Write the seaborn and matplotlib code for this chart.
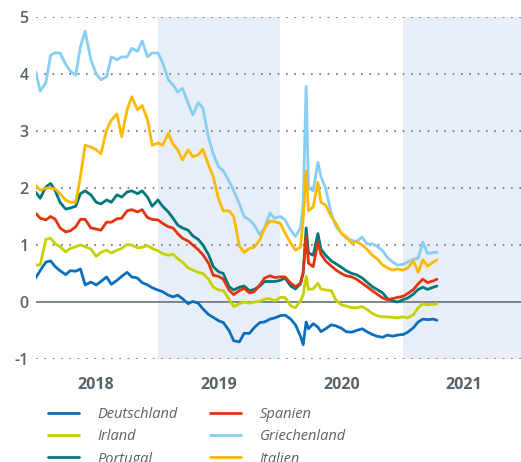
import pandas as pd
import matplotlib
matplotlib.use("Agg")
import matplotlib.pyplot as plt
import seaborn as sns

# Rendite zehnjähriger Staatsanleihen, in % (ca. halbmonatlich)
dates = [
    "2018-01-01", "2018-01-15", "2018-02-01", "2018-02-15", "2018-03-01", "2018-03-15",
    "2018-04-01", "2018-04-15", "2018-05-01", "2018-05-15", "2018-05-29", "2018-06-15",
    "2018-07-01", "2018-07-15", "2018-08-01", "2018-08-15", "2018-09-01", "2018-09-15",
    "2018-10-01", "2018-10-15", "2018-11-01", "2018-11-15", "2018-12-01", "2018-12-15",
    "2019-01-01", "2019-01-15", "2019-02-01", "2019-02-15", "2019-03-01", "2019-03-15",
    "2019-04-01", "2019-04-15", "2019-05-01", "2019-05-15", "2019-06-01", "2019-06-15",
    "2019-07-01", "2019-07-15", "2019-08-01", "2019-08-15", "2019-09-01", "2019-09-15",
    "2019-10-01", "2019-10-15", "2019-11-01", "2019-11-15", "2019-12-01", "2019-12-15",
    "2020-01-01", "2020-01-15", "2020-02-01", "2020-02-15", "2020-03-01", "2020-03-09",
    "2020-03-18", "2020-03-25", "2020-04-08", "2020-04-22", "2020-05-01", "2020-05-15",
    "2020-06-01", "2020-06-15", "2020-07-01", "2020-07-15", "2020-08-01", "2020-08-15",
    "2020-09-01", "2020-09-15", "2020-10-01", "2020-10-15", "2020-11-01", "2020-11-15",
    "2020-12-01", "2020-12-15", "2021-01-01", "2021-01-15", "2021-02-01", "2021-02-15",
    "2021-03-01", "2021-03-15", "2021-04-01", "2021-04-12",
]

deutschland = [
    0.42, 0.55, 0.70, 0.72, 0.62, 0.55, 0.48, 0.55, 0.54, 0.58, 0.30, 0.35,
    0.30, 0.36, 0.44, 0.31, 0.38, 0.45, 0.52, 0.44, 0.42, 0.34, 0.30, 0.25,
    0.21, 0.18, 0.12, 0.09, 0.12, 0.06, -0.03, 0.01, -0.02, -0.12, -0.22, -0.27,
    -0.33, -0.36, -0.50, -0.68, -0.70, -0.55, -0.55, -0.45, -0.36, -0.35, -0.30, -0.28,
    -0.24, -0.23, -0.30, -0.40, -0.60, -0.75, -0.35, -0.47, -0.38, -0.44, -0.52, -0.47,
    -0.40, -0.42, -0.46, -0.52, -0.53, -0.50, -0.47, -0.52, -0.57, -0.60, -0.62, -0.58,
    -0.60, -0.58, -0.57, -0.53, -0.45, -0.35, -0.30, -0.31, -0.30, -0.32,
]
irland = [
    0.65, 0.65, 1.10, 1.12, 1.02, 0.97, 0.88, 0.94, 0.97, 1.00, 0.97, 0.93,
    0.80, 0.87, 0.91, 0.86, 0.91, 0.94, 1.01, 1.00, 0.95, 0.96, 0.99, 0.94,
    0.90, 0.85, 0.82, 0.84, 0.76, 0.70, 0.60, 0.56, 0.52, 0.50, 0.40, 0.26,
    0.21, 0.20, 0.05, -0.08, -0.03, 0.00, -0.02, 0.00, 0.01, 0.05, 0.06, 0.02,
    0.08, 0.08, -0.07, -0.10, 0.02, 0.12, 0.45, 0.22, 0.23, 0.33, 0.23, 0.21,
    0.20, 0.03, -0.05, -0.07, -0.10, -0.10, -0.08, -0.13, -0.20, -0.24, -0.26, -0.26,
    -0.27, -0.28, -0.26, -0.28, -0.22, -0.10, -0.03, -0.05, -0.04, -0.03,
]
portugal = [
    1.93, 1.82, 2.02, 2.08, 1.95, 1.75, 1.63, 1.65, 1.68, 1.90, 1.95, 1.88,
    1.75, 1.72, 1.79, 1.75, 1.88, 1.84, 1.93, 1.95, 1.90, 1.95, 1.84, 1.68,
    1.79, 1.68, 1.58, 1.47, 1.35, 1.30, 1.26, 1.16, 1.10, 1.00, 0.83, 0.62,
    0.53, 0.50, 0.27, 0.21, 0.26, 0.28, 0.20, 0.22, 0.28, 0.36, 0.36, 0.36,
    0.38, 0.42, 0.28, 0.23, 0.32, 0.50, 1.30, 0.86, 0.82, 1.20, 0.93, 0.82,
    0.72, 0.67, 0.61, 0.55, 0.50, 0.48, 0.42, 0.35, 0.27, 0.22, 0.16, 0.06,
    0.02, 0.00, 0.04, 0.07, 0.14, 0.22, 0.26, 0.22, 0.26, 0.28,
]
spanien = [
    1.56, 1.47, 1.44, 1.50, 1.45, 1.30, 1.23, 1.25, 1.32, 1.45, 1.45, 1.30,
    1.28, 1.26, 1.40, 1.40, 1.46, 1.47, 1.60, 1.62, 1.58, 1.62, 1.48, 1.45,
    1.44, 1.38, 1.32, 1.30, 1.20, 1.12, 1.07, 1.00, 0.92, 0.83, 0.68, 0.47,
    0.45, 0.40, 0.21, 0.13, 0.20, 0.24, 0.16, 0.18, 0.30, 0.42, 0.46, 0.43,
    0.44, 0.44, 0.33, 0.27, 0.33, 0.52, 1.15, 0.68, 0.62, 1.05, 0.84, 0.72,
    0.63, 0.56, 0.50, 0.46, 0.44, 0.40, 0.33, 0.27, 0.20, 0.14, 0.07, 0.04,
    0.06, 0.08, 0.10, 0.15, 0.22, 0.32, 0.40, 0.34, 0.37, 0.40,
]
griechenland = [
    4.05, 3.70, 3.85, 4.33, 4.37, 4.37, 4.17, 4.05, 3.98, 4.48, 4.75, 4.25,
    4.00, 3.90, 3.95, 4.30, 4.25, 4.30, 4.30, 4.45, 4.40, 4.58, 4.30, 4.37,
    4.37, 4.20, 3.90, 3.81, 3.68, 3.75, 3.49, 3.28, 3.50, 3.40, 2.88, 2.60,
    2.37, 2.30, 2.12, 1.95, 1.72, 1.50, 1.44, 1.35, 1.18, 1.30, 1.56, 1.47,
    1.50, 1.44, 1.26, 1.15, 1.30, 1.70, 3.78, 2.00, 1.95, 2.45, 2.20, 2.00,
    1.55, 1.32, 1.21, 1.12, 1.08, 1.06, 1.14, 1.02, 1.02, 0.98, 0.90, 0.78,
    0.70, 0.65, 0.66, 0.70, 0.75, 0.77, 1.05, 0.85, 0.87, 0.87,
]
italien = [
    2.05, 1.96, 2.00, 2.00, 1.98, 1.90, 1.79, 1.75, 1.75, 2.20, 2.75, 2.72,
    2.67, 2.60, 3.02, 3.19, 3.30, 2.90, 3.37, 3.60, 3.37, 3.45, 3.20, 2.75,
    2.79, 2.75, 2.96, 2.77, 2.67, 2.49, 2.67, 2.55, 2.58, 2.68, 2.40, 2.20,
    1.80, 1.60, 1.60, 1.50, 0.98, 0.87, 0.94, 0.96, 1.09, 1.30, 1.42, 1.41,
    1.38, 1.21, 1.03, 0.91, 0.96, 1.44, 2.30, 1.60, 1.67, 2.10, 1.75, 1.70,
    1.50, 1.38, 1.20, 1.15, 1.03, 1.06, 1.00, 0.93, 0.82, 0.76, 0.65, 0.60,
    0.56, 0.58, 0.56, 0.60, 0.72, 0.52, 0.74, 0.63, 0.70, 0.74,
]

laender = ["Deutschland", "Irland", "Portugal", "Spanien", "Griechenland", "Italien"]
farben = ["#0a6fba", "#c5d100", "#00777a", "#e2340f", "#86cef2", "#fbb900"]
years = ["2018", "2019", "2020", "2021"]

series = dict(zip(laender, [deutschland, irland, portugal, spanien, griechenland, italien]))
df = pd.concat(
    [pd.DataFrame({"datum": pd.to_datetime(dates), "rendite": v, "land": k}) for k, v in series.items()],
    ignore_index=True,
)

sns.set_theme(style="white")
plt.rcParams["font.family"] = ["Open Sans", "DejaVu Sans"]
grau = "#56636c"

fig = plt.figure(figsize=(5.21, 4.62), dpi=100)
ax = fig.add_axes([35.5 / 521, 1 - 359 / 462, 490 / 521, 342 / 462])

# shaded years
ax.axvspan(pd.Timestamp("2019-01-01"), pd.Timestamp("2020-01-01"), color="#e8eef8", lw=0, zorder=0)
ax.axvspan(pd.Timestamp("2021-01-01"), pd.Timestamp("2022-01-01"), color="#e8eef8", lw=0, zorder=0)

for y in [-1, 1, 2, 3, 4, 5]:
    ax.axhline(y, color="#7d8890", lw=1.5, ls=(0, (0.8, 3.2)), zorder=0.5)
ax.axhline(0, color="#66727a", lw=1.2, zorder=0.6)

sns.lineplot(data=df, x="datum", y="rendite", hue="land", hue_order=laender,
             palette=farben, lw=2.0, ax=ax)

ax.set_xlim(pd.Timestamp("2018-01-01"), pd.Timestamp("2022-01-01"))
ax.set_ylim(-1, 5)
ax.set_xlabel("")
ax.set_ylabel("")
sns.despine(ax=ax, left=True, bottom=True)

ax.set_yticks(range(-1, 6))
ax.set_yticklabels([str(v) for v in range(-1, 6)], fontsize=11.5, fontweight="semibold", color=grau)
ax.set_xticks([pd.Timestamp(f"{y}-07-01") for y in years])
ax.set_xticklabels(years, fontsize=11.5, fontweight="bold", color=grau)
ax.tick_params(axis="y", length=0, pad=5)
ax.tick_params(axis="x", length=0, pad=13)

handles, labels = ax.get_legend_handles_labels()
ax.get_legend().remove()
fig.legend(handles, labels, ncol=2, loc="upper left", bbox_to_anchor=(48 / 521, 1 - 407 / 462),
           frameon=False, borderpad=0, borderaxespad=0, handlelength=2.1, handletextpad=1.3,
           columnspacing=2.2, labelspacing=0.5, labelcolor=grau,
           prop={"family": ["Open Sans", "DejaVu Sans"], "style": "italic", "size": 10.5})

fig.savefig("out.png", dpi=100)
